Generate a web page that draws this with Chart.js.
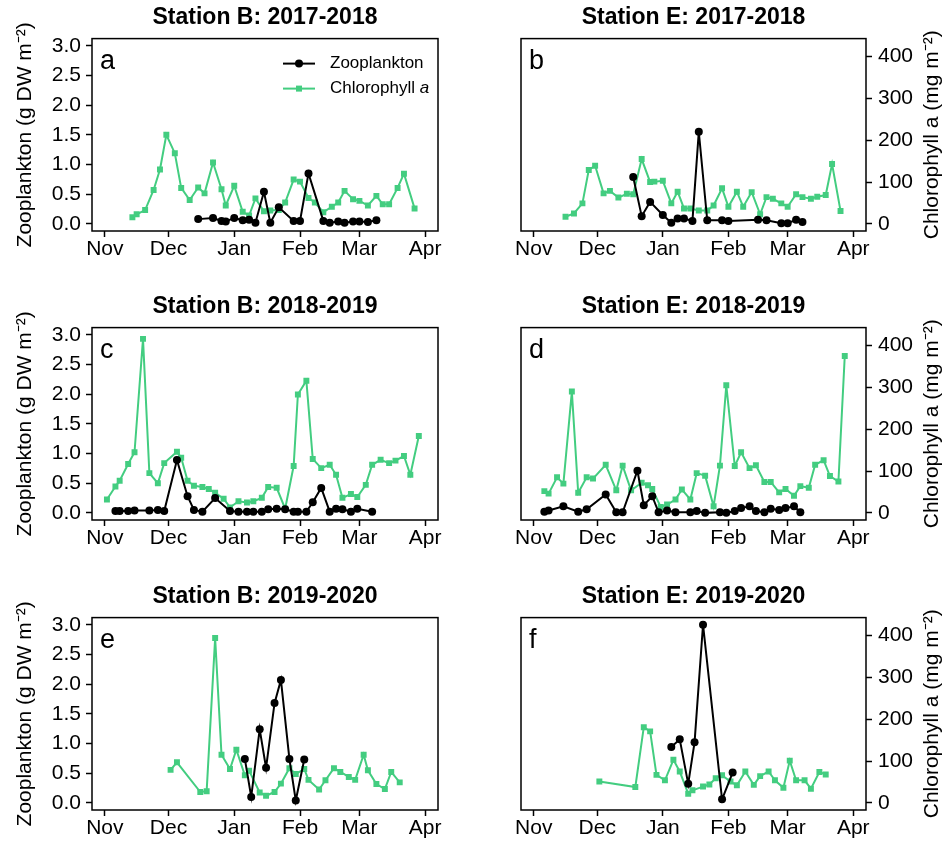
<!DOCTYPE html>
<html>
<head>
<meta charset="utf-8">
<script src="https://cdn.jsdelivr.net/npm/chart.js@4.4.1/dist/chart.umd.min.js"></script>
<style>
html, body { margin: 0; padding: 0; background: #fff; overflow: hidden; }
#wrap { position: relative; width: 942px; height: 843px; }
#wrap canvas { position: absolute; }
</style>
</head>
<body>
<div id="wrap"></div>
<script>
// x axis: days since 1 Nov
const months = ['Nov', 'Dec', 'Jan', 'Feb', 'Mar', 'Apr'];
const monthDays = [0, 30, 61, 92, 120, 151];
const zooTicks = [0, 0.5, 1, 1.5, 2, 2.5, 3];
const chlTicks = [0, 100, 200, 300, 400];

// a: Station B 2017-2018
const chlDaysA = [13,15,19,23,26,29,33,36,40,44,47,51,55,57,61,65,68,71,75,78,82,85,89,92,96,99,103,107,110,113,117,120,124,128,131,134,138,141,146];
const chlA = [16,23,33,81,130,213,169,86,57,87,73,147,83,44,91,29,20,61,30,32,33,51,106,101,62,51,28,41,51,79,59,55,44,67,47,47,86,120,37];
const zooDaysA = [44,51,55,57,61,65,68,71,75,78,82,89,92,96,103,106,110,113,117,120,124,128];
const zooA = [0.08,0.10,0.05,0.04,0.10,0.06,0.07,0.02,0.54,0.02,0.28,0.05,0.05,0.85,0.05,0.02,0.04,0.02,0.04,0.04,0.03,0.06];

// b: Station E 2017-2018
const chlDaysB = [15,19,23,26,29,33,36,40,44,47,51,55,57,61,65,68,71,74,78,82,85,89,92,96,99,103,107,110,113,117,120,124,127,131,134,138,141,145];
const chlB = [17,25,49,129,139,73,79,63,72,71,155,100,101,103,49,77,37,37,32,32,44,85,41,77,41,76,23,64,60,49,41,71,64,60,65,69,143,31];
const zooDaysB = [47,51,55,61,65,68,71,75,78,82,89,92,106,110,117,120,124,127];
const zooB = [0.79,0.13,0.37,0.15,0.02,0.09,0.09,0.05,1.55,0.06,0.06,0.05,0.07,0.06,0.01,0.01,0.07,0.03];

// c: Station B 2018-2019
const chlDaysC = [1,5,7,11,14,18,21,25,28,34,36,39,42,46,49,52,56,59,63,67,70,74,77,81,85,89,91,95,98,102,106,109,112,116,119,123,126,130,134,137,141,144,148];
const chlC = [32,63,77,117,145,416,95,71,119,146,132,77,65,62,57,48,34,13,28,25,28,36,62,60,10,112,283,316,129,107,115,91,36,45,38,67,115,127,119,125,136,91,184];
const zooDaysC = [5,7,11,14,21,25,28,34,39,42,46,52,59,63,67,70,74,77,81,85,89,91,95,98,102,106,109,112,116,119,126];
const zooC = [0.03,0.03,0.03,0.04,0.04,0.05,0.03,0.89,0.28,0.05,0.02,0.25,0.03,0.02,0.02,0.02,0.02,0.06,0.07,0.06,0.02,0.02,0.02,0.18,0.42,0.02,0.07,0.06,0.02,0.07,0.02];

// d: Station E 2018-2019
const chlDaysD = [5,7,11,14,18,21,25,28,34,39,42,46,51,54,56,60,63,67,70,74,77,81,85,88,91,95,98,102,105,109,112,116,119,123,126,130,133,137,140,144,147];
const chlD = [52,46,85,70,290,48,85,82,115,54,113,54,72,66,57,14,20,32,56,32,95,89,16,113,305,112,145,107,114,74,74,49,57,41,64,60,115,126,88,75,375];
const zooDaysD = [5,7,14,21,25,34,39,42,49,52,56,59,63,67,74,77,81,88,91,95,98,102,105,109,112,116,119,123,126];
const zooD = [0.02,0.04,0.11,0.02,0.06,0.31,0.01,0.01,0.71,0.13,0.28,0.01,0.04,0.01,0.01,0.03,0.00,0.01,0.00,0.03,0.08,0.11,0.03,0.01,0.07,0.05,0.08,0.11,0.01];

// e: Station B 2019-2020
const chlDaysE = [31,34,45,48,52,55,59,62,66,68,73,76,80,83,87,90,94,96,101,104,108,111,115,118,122,124,128,132,135,139];
const chlE = [79,97,26,28,394,115,81,127,66,77,25,17,26,46,83,69,81,55,32,54,83,74,62,55,115,78,45,33,74,49];
const zooDaysE = [66,69,73,76,80,83,87,90,94];
const zooE = [0.74,0.10,1.24,0.59,1.68,2.07,0.74,0.04,0.73];

// f: Station E 2019-2020
const chlDaysF = [31,48,52,55,58,62,66,69,73,75,80,83,86,89,93,96,100,104,107,111,114,118,121,124,128,131,135,138];
const chlF = [51,38,181,171,67,54,103,75,22,30,39,44,59,66,51,42,75,43,64,75,54,36,101,54,54,34,74,68];
const zooDaysF = [65,69,73,76,80,89,94];
const zooF = [0.94,1.07,0.32,1.02,3.00,0.06,0.51];

const titles = ['Station B: 2017-2018', 'Station E: 2017-2018', 'Station B: 2018-2019',
  'Station E: 2018-2019', 'Station B: 2019-2020', 'Station E: 2019-2020'];
const letters = ['a', 'b', 'c', 'd', 'e', 'f'];

const green = '#43CD80';
const fam = '"Liberation Sans", Arial, Helvetica, sans-serif';
Chart.defaults.font.family = fam;
Chart.defaults.color = '#000';

const wrap = document.getElementById('wrap');
const rowTops = [0, 289, 579];

function pts(days, vals) {
  return days.map((d, i) => ({ x: d, y: vals[i] }));
}

const decor = {
  id: 'decor',
  afterDraw(chart, args, o) {
    const ctx = chart.ctx, a = chart.chartArea;
    ctx.save();
    ctx.strokeStyle = '#000';
    ctx.lineWidth = 1.5;
    ctx.strokeRect(a.left, a.top, a.right - a.left, a.bottom - a.top);
    ctx.fillStyle = '#000';
    ctx.font = '27px ' + fam;
    ctx.textAlign = 'left';
    ctx.textBaseline = 'alphabetic';
    ctx.fillText(o.letter, a.left + 8, a.top + 30);

    if (o.legend) {
      const x0 = a.left + 191, x1 = a.left + 223, xm = (x0 + x1) / 2;
      const rows = [a.top + 25, a.top + 50];
      ctx.lineWidth = 2;
      ctx.strokeStyle = '#000';
      ctx.beginPath(); ctx.moveTo(x0, rows[0]); ctx.lineTo(x1, rows[0]); ctx.stroke();
      ctx.beginPath(); ctx.arc(xm, rows[0], 4, 0, Math.PI * 2); ctx.fill();
      ctx.strokeStyle = green;
      ctx.fillStyle = green;
      ctx.beginPath(); ctx.moveTo(x0, rows[1]); ctx.lineTo(x1, rows[1]); ctx.stroke();
      ctx.fillRect(xm - 3, rows[1] - 3, 6, 6);
      ctx.fillStyle = '#000';
      ctx.textBaseline = 'middle';
      ctx.font = '17px ' + fam;
      ctx.fillText('Zooplankton', a.left + 238, rows[0]);
      ctx.fillText('Chlorophyll ', a.left + 238, rows[1]);
      const w = ctx.measureText('Chlorophyll ').width;
      ctx.font = 'italic 17px ' + fam;
      ctx.fillText('a', a.left + 238 + w, rows[1]);
    }

    if (o.rightTitle) {
      ctx.translate(chart.width - 10, (a.top + a.bottom) / 2);
      ctx.rotate(-Math.PI / 2);
      ctx.textAlign = 'center';
      ctx.textBaseline = 'middle';
      ctx.font = '21px ' + fam;
      ctx.fillText('Chlorophyll a (mg m⁻²)', 0, 0);
    }
    ctx.restore();
  }
};

const tickGrid = { drawOnChartArea: false, drawTicks: true, tickLength: 6, tickWidth: 1.5, tickColor: '#000' };

const panelData = [
  [zooDaysA, zooA, chlDaysA, chlA],
  [zooDaysB, zooB, chlDaysB, chlB],
  [zooDaysC, zooC, chlDaysC, chlC],
  [zooDaysD, zooD, chlDaysD, chlD],
  [zooDaysE, zooE, chlDaysE, chlE],
  [zooDaysF, zooF, chlDaysF, chlF]
];

panelData.forEach((pd, i) => {
  const leftCol = i % 2 === 0;
  const row = Math.floor(i / 2);
  const cv = document.createElement('canvas');
  cv.width = leftCol ? 470 : 472;
  cv.height = 264;
  cv.style.left = (leftCol ? 0 : 470) + 'px';
  cv.style.top = rowTops[row] + 'px';
  wrap.appendChild(cv);

  new Chart(cv, {
    type: 'line',
    data: {
      datasets: [
        { label: 'Zooplankton', data: pts(pd[0], pd[1]), yAxisID: 'zoo',
          borderColor: '#000', backgroundColor: '#000', borderWidth: 2,
          pointRadius: 4, pointStyle: 'circle', pointBorderWidth: 0, tension: 0 },
        { label: 'Chlorophyll a', data: pts(pd[2], pd[3]), yAxisID: 'chl',
          borderColor: green, backgroundColor: green, borderWidth: 2,
          pointRadius: 4.2, pointStyle: 'rect', pointBorderWidth: 0, tension: 0 }
      ]
    },
    options: {
      responsive: false,
      animation: false,
      devicePixelRatio: 1,
      layout: { padding: { left: leftCol ? 0 : 51, right: leftCol ? 32 : 0, top: 0, bottom: 0 } },
      plugins: {
        legend: { display: false },
        tooltip: { enabled: false },
        title: { display: true, text: titles[i], fullSize: false, color: '#000',
          font: { size: 23, weight: 'bold' }, padding: { top: 4, bottom: 7 } },
        decor: { letter: letters[i], legend: i === 0, rightTitle: !leftCol }
      },
      scales: {
        x: {
          type: 'linear', min: -6.04, max: 157.04,
          afterBuildTicks: s => { s.ticks = monthDays.map(v => ({ value: v })); },
          afterFit: s => { s.height = 33; },
          ticks: { autoSkip: false, maxRotation: 0, padding: 0, font: { size: 21 },
            callback: v => months[monthDays.indexOf(v)] },
          grid: tickGrid,
          border: { display: false }
        },
        zoo: {
          type: 'linear', position: 'left', display: leftCol, min: -0.12, max: 3.12,
          afterBuildTicks: s => { s.ticks = zooTicks.map(v => ({ value: v })); },
          afterFit: s => { s.width = leftCol ? 92 : 0; },
          ticks: { padding: 5, font: { size: 21 }, callback: v => v.toFixed(1) },
          title: { display: true, text: 'Zooplankton (g DW m⁻²)', font: { size: 21 }, padding: { top: 13, bottom: 0 } },
          grid: tickGrid,
          border: { display: false }
        },
        chl: {
          type: 'linear', position: 'right', display: !leftCol, min: -17, max: 443,
          afterBuildTicks: s => { s.ticks = chlTicks.map(v => ({ value: v })); },
          afterFit: s => { s.width = leftCol ? 0 : 76; },
          ticks: { padding: 6, font: { size: 21 }, callback: v => String(v) },
          grid: tickGrid,
          border: { display: false }
        }
      }
    },
    plugins: [decor]
  });
});
</script>
</body>
</html>
